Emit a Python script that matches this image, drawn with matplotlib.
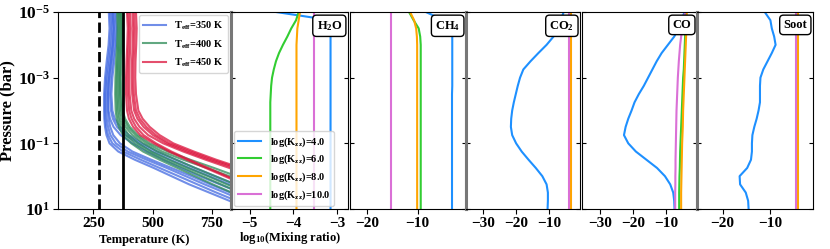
import numpy as np
import matplotlib.pyplot as plt

plt.rcParams['font.family'] = 'Liberation Serif'
plt.rcParams['font.weight'] = 'bold'
plt.rcParams['mathtext.fontset'] = 'custom'
plt.rcParams['mathtext.rm'] = 'Liberation Serif:bold'
plt.rcParams['mathtext.bf'] = 'Liberation Serif:bold'
plt.rcParams['mathtext.it'] = 'Liberation Serif:italic:bold'

# ---- temperature-pressure profiles ----
logp_tp = [-5, -4.5, -4, -3.5, -3, -2.5, -2, -1.75, -1.5, -1.25, -1, -0.75,
           -0.5, -0.25, 0, 0.25, 0.5, 0.75, 1]

t_350 = [
    [315, 318, 314, 306, 299, 295, 295, 296, 299, 305, 318, 355, 425, 505, 580, 655, 740, 825, 905],
    [320, 324, 320, 312, 304, 299, 299, 300, 304, 312, 330, 375, 450, 530, 610, 690, 770, 855, 935],
    [326, 330, 326, 318, 309, 304, 304, 306, 312, 322, 345, 395, 475, 560, 640, 720, 805, 885, 965],
    [333, 337, 333, 325, 316, 311, 311, 314, 321, 334, 362, 415, 495, 580, 665, 745, 830, 910, 990],
    [330, 336, 332, 324, 316, 312, 314, 320, 335, 365, 415, 475, 545, 620, 700, 785, 870, 950, 1030],
    [338, 344, 340, 332, 324, 320, 324, 332, 350, 385, 440, 500, 575, 655, 740, 825, 905, 985, 1065],
    [344, 350, 346, 338, 330, 326, 330, 340, 362, 400, 455, 520, 600, 680, 765, 850, 930, 1010, 1090],
]
t_400 = [
    [350, 352, 350, 346, 343, 342, 344, 348, 357, 375, 410, 460, 530, 605, 680, 755, 835, 915, 995],
    [354, 357, 355, 351, 348, 347, 350, 355, 366, 388, 425, 480, 550, 630, 710, 790, 870, 950, 1030],
    [358, 361, 359, 355, 352, 352, 356, 362, 375, 400, 440, 495, 570, 650, 735, 815, 900, 980, 1060],
    [362, 366, 364, 360, 358, 358, 362, 370, 386, 415, 460, 520, 600, 680, 765, 850, 930, 1010, 1090],
    [366, 370, 368, 364, 362, 363, 368, 378, 396, 428, 475, 540, 630, 730, 825, 905, 985, 1065, 1145],
    [368, 372, 371, 368, 366, 367, 373, 384, 404, 438, 488, 565, 660, 760, 855, 935, 1015, 1095, 1175],
]
t_450 = [
    [392, 395, 393, 390, 388, 388, 392, 400, 418, 448, 505, 570, 645, 725, 805, 885, 965, 1045, 1125],
    [398, 401, 399, 396, 395, 396, 401, 411, 430, 462, 515, 580, 655, 735, 815, 895, 975, 1055, 1135],
    [405, 408, 406, 403, 402, 403, 410, 422, 445, 482, 545, 630, 725, 825, 920, 1010, 1100, 1190, 1280],
    [415, 418, 416, 413, 412, 414, 422, 436, 462, 502, 560, 645, 740, 845, 940, 1030, 1120, 1210, 1300],
    [422, 425, 423, 420, 419, 421, 430, 446, 474, 515, 572, 660, 755, 860, 955, 1045, 1135, 1225, 1315],
    [430, 433, 431, 428, 427, 430, 440, 458, 488, 530, 588, 675, 770, 875, 970, 1060, 1150, 1240, 1330],
]
teff_labels = [r'T$_{\rm eff}$=350 K', r'T$_{\rm eff}$=400 K', r'T$_{\rm eff}$=450 K']
teff_colors = ['royalblue', 'seagreen', 'crimson']
t_freeze = 273
t_boil = 373

# ---- mixing ratio profiles (log10) ----
logp_chem = [-5, -4.75, -4.5, -4.25, -4, -3.75, -3.5, -3.25, -3, -2.75, -2.5, -2.25,
             -2, -1.75, -1.5, -1.25, -1, -0.75, -0.5, -0.25, 0, 0.25, 0.5, 0.75, 1]

kzz_labels = [r'log(K$_{\rm zz}$)=4.0', r'log(K$_{\rm zz}$)=6.0',
              r'log(K$_{\rm zz}$)=8.0', r'log(K$_{\rm zz}$)=10.0']
kzz_colors = ['dodgerblue', 'limegreen', 'orange', 'orchid']

h2o = [
    [-4.4, -3.15, -3.15, -3.15, -3.15, -3.15, -3.15, -3.15, -3.15, -3.15, -3.15, -3.15,
     -3.15, -3.15, -3.15, -3.15, -3.15, -3.15, -3.15, -3.15, -3.15, -3.15, -3.15, -3.15, -3.15],
    [-3.88, -3.94, -4.05, -4.14, -4.24, -4.33, -4.40, -4.45, -4.49, -4.51, -4.52, -4.53,
     -4.53, -4.53, -4.53, -4.53, -4.53, -4.53, -4.53, -4.53, -4.53, -4.53, -4.53, -4.53, -4.53],
    [-3.85, -3.88, -3.91, -3.92, -3.93, -3.93, -3.93, -3.93, -3.93, -3.93, -3.93, -3.93,
     -3.93, -3.93, -3.93, -3.93, -3.93, -3.93, -3.93, -3.93, -3.93, -3.93, -3.93, -3.93, -3.93],
    [-3.54, -3.54, -3.54, -3.54, -3.54, -3.54, -3.54, -3.54, -3.54, -3.54, -3.54, -3.54,
     -3.54, -3.54, -3.54, -3.54, -3.54, -3.54, -3.54, -3.54, -3.54, -3.54, -3.54, -3.54, -3.54],
]
ch4 = [
    [-8.4, -4.9, -3.6, -3.2, -3.2, -3.2, -3.2, -3.2, -3.2, -3.2, -3.25, -3.25,
     -3.25, -3.25, -3.25, -3.25, -3.25, -3.25, -3.25, -3.25, -3.25, -3.25, -3.25, -3.25, -3.25],
    [-11.7, -10.8, -9.8, -9.5, -9.4, -9.4, -9.4, -9.4, -9.4, -9.4, -9.4, -9.4,
     -9.4, -9.4, -9.4, -9.4, -9.4, -9.4, -9.4, -9.4, -9.4, -9.4, -9.4, -9.4, -9.4],
    [-11.5, -10.7, -10.3, -10.15, -10.1, -10.1, -10.1, -10.1, -10.1, -10.1, -10.1, -10.1,
     -10.1, -10.1, -10.1, -10.1, -10.1, -10.1, -10.1, -10.1, -10.1, -10.1, -10.1, -10.1, -10.1],
    [-15.2, -15.2, -15.2, -15.2, -15.2, -15.2, -15.2, -15.2, -15.2, -15.2, -15.2, -15.2,
     -15.2, -15.2, -15.2, -15.2, -15.2, -15.2, -15.2, -15.2, -15.2, -15.2, -15.2, -15.2, -15.2],
]
co2 = [
    [-5.5, -6.3, -7.2, -8.6, -10.7, -13.2, -15.6, -17.8, -18.8, -19.5, -20.1, -20.7,
     -21.2, -21.5, -21.6, -21.2, -20.0, -18.3, -16.2, -14.0, -12.0, -10.7, -10.3, -10.3, -10.4],
    [-3.5, -3.5, -3.5, -3.5, -3.5, -3.5, -3.5, -3.5, -3.5, -3.5, -3.5, -3.5,
     -3.5, -3.5, -3.5, -3.5, -3.5, -3.5, -3.5, -3.5, -3.5, -3.5, -3.5, -3.5, -3.5],
    [-3.1, -3.1, -3.1, -3.1, -3.1, -3.1, -3.1, -3.1, -3.1, -3.1, -3.1, -3.1,
     -3.1, -3.1, -3.1, -3.1, -3.1, -3.1, -3.1, -3.1, -3.1, -3.1, -3.1, -3.1, -3.1],
    [-3.8, -3.8, -3.8, -3.8, -3.8, -3.8, -3.8, -3.8, -3.8, -3.8, -3.8, -3.8,
     -3.8, -3.8, -3.8, -3.8, -3.8, -3.8, -3.8, -3.8, -3.8, -3.8, -3.8, -3.8, -3.8],
]
co = [
    [-4.5, -5.3, -6.2, -7.6, -9.5, -11.4, -12.9, -14.2, -15.5, -16.8, -18.3, -19.6,
     -20.5, -21.5, -22.3, -22.8, -21.5, -19.2, -16.0, -12.8, -10.4, -8.8, -7.9, -7.6, -7.5],
    [-4.0, -4.1, -4.2, -4.3, -4.4, -4.5, -4.6, -4.7, -4.9, -5.0, -5.1, -5.2,
     -5.3, -5.4, -5.5, -5.6, -5.7, -5.8, -5.85, -5.9, -6.0, -6.05, -6.1, -6.1, -6.1],
    [-3.8, -3.85, -3.9, -4.0, -4.1, -4.2, -4.3, -4.4, -4.5, -4.6, -4.7, -4.8,
     -4.9, -4.95, -5.0, -5.1, -5.2, -5.25, -5.3, -5.35, -5.4, -5.45, -5.5, -5.5, -5.5],
    [-4.3, -4.8, -5.2, -5.5, -5.8, -6.0, -6.2, -6.35, -6.5, -6.6, -6.7, -6.8,
     -6.9, -6.95, -7.0, -7.05, -7.1, -7.15, -7.2, -7.2, -7.25, -7.25, -7.3, -7.3, -7.3],
]
soot = [
    [-11.1, -9.9, -9.6, -9.1, -8.8, -9.6, -10.5, -11.4, -12.0, -12.1, -12.1, -12.1,
     -12.4, -12.8, -13.3, -13.7, -13.8, -13.8, -14.0, -14.8, -16.4, -16.3, -15.1, -14.6, -14.5],
    None,
    [-4.1, -4.1, -4.1, -4.1, -4.1, -4.1, -4.1, -4.1, -4.1, -4.1, -4.1, -4.1,
     -4.1, -4.1, -4.1, -4.1, -4.1, -4.1, -4.1, -4.1, -4.1, -4.1, -4.1, -4.1, -4.1],
    [-4.5, -4.5, -4.5, -4.5, -4.5, -4.5, -4.5, -4.5, -4.5, -4.5, -4.5, -4.5,
     -4.5, -4.5, -4.5, -4.5, -4.5, -4.5, -4.5, -4.5, -4.5, -4.5, -4.5, -4.5, -4.5],
]

species = ['H$_2$O', 'CH$_4$', 'CO$_2$', 'CO', 'Soot']
profiles = [h2o, ch4, co2, co, soot]
xlims = [(-5.43, -2.75), (-23.3, -0.5), (-35.3, -0.5), (-35.5, -0.7), (-25.4, -0.9)]
xticks = [[-5, -4, -3], [-20, -10], [-30, -20, -10], [-30, -20, -10], [-20, -10]]

p_tp = 10.0 ** np.array(logp_tp)
p_chem = 10.0 ** np.array(logp_chem)

W, H = 830, 249
fig = plt.figure(figsize=(W / 100, H / 100), dpi=100)
edges = [(58, 231), (231, 348), (350, 466), (466, 580), (582, 697), (697, 813)]
top, bot = 12, 209
axes = [fig.add_axes([l / W, 1 - bot / H, (r - l) / W, (bot - top) / H]) for l, r in edges]

ytick_vals = [1e-5, 1e-3, 1e-1, 1e1]
ytick_labs = [r'$\mathbf{10^{-5}}$', r'$\mathbf{10^{-3}}$', r'$\mathbf{10^{-1}}$', r'$\mathbf{10^{1}}$']

# temperature panel
ax = axes[0]
for group, c, lab in zip([t_350, t_400, t_450], teff_colors, teff_labels):
    for i, t in enumerate(group):
        ax.plot(t, p_tp, color=c, lw=1.5, alpha=0.75, label=lab if i == 0 else None)
ax.axvline(t_freeze, color='k', ls='--', lw=2)
ax.axvline(t_boil, color='k', lw=2)
ax.set_xlim(100, 832)
ax.set_xticks([250, 500, 750])
ax.set_xlabel('Temperature (K)', fontsize=9, fontweight='bold', labelpad=3)
ax.set_ylabel('Pressure (bar)', fontsize=12, fontweight='bold')
ax.yaxis.set_label_coords(-0.245, 0.5)
ax.legend(loc='upper right', fontsize=7.5, handlelength=2.2, borderaxespad=0.3,
          labelspacing=0.6, handletextpad=0.8)

# mixing ratio panels
for k, ax in enumerate(axes[1:]):
    for prof, c, lab in zip(profiles[k], kzz_colors, kzz_labels):
        if prof is None:
            continue
        ax.plot(prof, p_chem, color=c, lw=1.5, label=lab)
    ax.set_xlim(*xlims[k])
    ax.set_xticks(xticks[k])
    ax.text(0.95, 0.965, species[k], transform=ax.transAxes, ha='right', va='top',
            fontsize=9, fontweight='bold',
            bbox=dict(boxstyle='round,pad=0.3', fc='white', ec='black', lw=1))
    ax.tick_params(axis='y', which='both', direction='in', left=True, right=True,
                   labelleft=False, length=3)
axes[1].set_xlabel(r'log$_{10}$(Mixing ratio)', fontsize=9, fontweight='bold', labelpad=0)
axes[1].legend(loc='lower left', fontsize=7.5, handlelength=2.2, borderaxespad=0.3,
               labelspacing=0.4, handletextpad=0.8)

for ax in axes:
    ax.set_yscale('log')
    ax.set_ylim(1e1, 1e-5)
    ax.set_yticks(ytick_vals)
    ax.minorticks_off()
    ax.tick_params(axis='x', labelsize=11, length=3.5, pad=2)
axes[0].set_yticklabels(ytick_labs, fontsize=12.5)
axes[0].tick_params(axis='y', length=3.5, pad=2)

# boundary styling
for a, b in [(0, 1), (2, 3), (4, 5)]:
    axes[a].spines['right'].set_color('#777777')
    axes[a].spines['right'].set_linewidth(2.2)
    axes[b].spines['left'].set_color('#777777')
    axes[b].spines['left'].set_linewidth(2.2)

fig.savefig('out.png', dpi=100)
